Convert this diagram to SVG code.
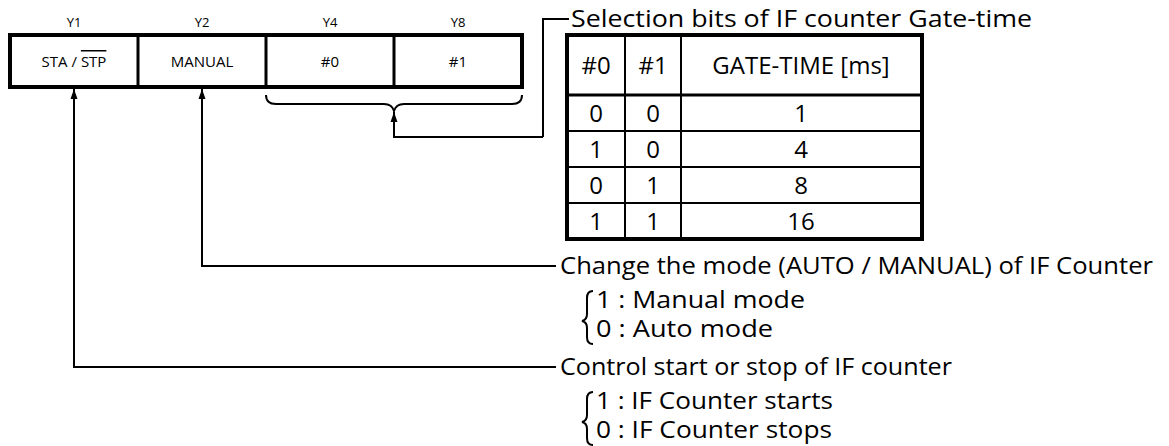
<svg xmlns="http://www.w3.org/2000/svg" width="1169" height="446" viewBox="0 0 1169 446">
<style>
.t{font-family:"Open Sans","Noto Sans","Liberation Sans",sans-serif;fill:#000}
.lbl{font-size:13px;text-anchor:middle}
.cell{font-size:15px;text-anchor:middle}
.big{font-size:23px}
.tb{font-size:24px;text-anchor:middle}
.ln{fill:none;stroke:#000;stroke-width:2}
.box{fill:#fff;stroke:#000;stroke-width:4}
.div{stroke:#000;stroke-width:3}
.thin{stroke:#000;stroke-width:2}
</style>
<defs>
<marker id="ah" viewBox="0 0 10 10" refX="10" refY="5" markerWidth="10" markerHeight="10" markerUnits="userSpaceOnUse" orient="auto">
<path d="M0,1.5 L10,5 L0,8.5 Z" fill="#000"/>
</marker>
</defs>
<rect width="1169" height="446" fill="#fff"/>

<g id="register">
<text class="t lbl" x="74" y="27">Y1</text>
<text class="t lbl" x="202" y="27">Y2</text>
<text class="t lbl" x="330" y="27">Y4</text>
<text class="t lbl" x="458" y="27">Y8</text>
<rect class="box" x="10" y="35" width="512" height="52"/>
<line class="div" x1="138" y1="35" x2="138" y2="87"/>
<line class="div" x1="266" y1="35" x2="266" y2="87"/>
<line class="div" x1="394" y1="35" x2="394" y2="87"/>
<text class="t cell" x="74" y="67">STA / <tspan style="text-decoration:overline">STP</tspan></text>
<text class="t cell" x="202" y="67">MANUAL</text>
<text class="t cell" x="330" y="67">#0</text>
<text class="t cell" x="458" y="67">#1</text>
</g>

<g id="gate-table">
<text class="t big" x="571" y="27" textLength="461" lengthAdjust="spacingAndGlyphs">Selection bits of IF counter Gate-time</text>
<rect class="box" x="567" y="35" width="355" height="204"/>
<line class="thin" x1="625" y1="35" x2="625" y2="239"/>
<line class="thin" x1="681" y1="35" x2="681" y2="239"/>
<line class="div" x1="567" y1="95" x2="922" y2="95"/>
<line class="thin" x1="567" y1="131" x2="922" y2="131"/>
<line class="thin" x1="567" y1="167" x2="922" y2="167"/>
<line class="thin" x1="567" y1="203" x2="922" y2="203"/>
<text class="t tb" x="596" y="74">#0</text>
<text class="t tb" x="653" y="74">#1</text>
<text class="t tb" x="801" y="74">GATE-TIME  [ms]</text>
<text class="t tb" x="596" y="122">0</text><text class="t tb" x="653" y="122">0</text><text class="t tb" x="801" y="122">1</text>
<text class="t tb" x="596" y="158">1</text><text class="t tb" x="653" y="158">0</text><text class="t tb" x="801" y="158">4</text>
<text class="t tb" x="596" y="194">0</text><text class="t tb" x="653" y="194">1</text><text class="t tb" x="801" y="194">8</text>
<text class="t tb" x="596" y="230">1</text><text class="t tb" x="653" y="230">1</text><text class="t tb" x="801" y="230">16</text>
</g>

<g id="manual-desc">
<text class="t big" x="560" y="274" textLength="593" lengthAdjust="spacingAndGlyphs">Change the mode (AUTO / MANUAL) of IF Counter</text>
<path class="ln" d="M593,291 Q587,291 587,298 L587,314 Q587,320 582,321 Q587,322 587,328 L587,337 Q587,344 593,344"/>
<text class="t big" x="596" y="308" textLength="209" lengthAdjust="spacingAndGlyphs">1 : Manual mode</text>
<text class="t big" x="596" y="337" textLength="177" lengthAdjust="spacingAndGlyphs">0 : Auto mode</text>
</g>

<g id="start-desc">
<text class="t big" x="560" y="375" textLength="392" lengthAdjust="spacingAndGlyphs">Control start or stop of IF counter</text>
<path class="ln" d="M593,392 Q587,392 587,399 L587,415 Q587,421 582,422 Q587,423 587,429 L587,438 Q587,445 593,445"/>
<text class="t big" x="596" y="409" textLength="237" lengthAdjust="spacingAndGlyphs">1 : IF Counter starts</text>
<text class="t big" x="596" y="438" textLength="236" lengthAdjust="spacingAndGlyphs">0 : IF Counter stops</text>
</g>

<g id="connectors">
<path class="ln" d="M266,95 Q266,104 276,104 L384,104 Q392,104 394,111 Q396,104 404,104 L512,104 Q522,104 522,95"/>
<path class="ln" d="M543,137 L394,137 L394,112" marker-end="url(#ah)"/>
<path class="ln" d="M543,137 L543,19 L569,19"/>
<path class="ln" d="M556,266 L202,266 L202,89" marker-end="url(#ah)"/>
<path class="ln" d="M556,367 L74,367 L74,89" marker-end="url(#ah)"/>
</g>
</svg>
